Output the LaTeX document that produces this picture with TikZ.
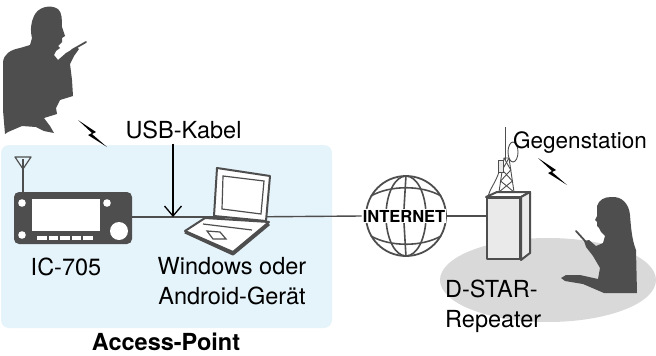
\documentclass[tikz,border=0pt]{standalone}
\usepackage{fontspec}
\setmainfont{TeX Gyre Heros}
\usetikzlibrary{positioning,arrows.meta}
\definecolor{apblau}{RGB}{229,243,250}
\definecolor{dunkel}{RGB}{78,78,78}
\definecolor{feld}{RGB}{217,217,217}
\definecolor{wand}{RGB}{234,234,234}
\tikzset{
	schrift/.style={font=\fontsize{23.5}{30}\selectfont, inner sep=0pt, align=center},
	kabel/.style={draw=dunkel, line width=1.4pt},
	umriss/.style={draw=dunkel, line width=2pt, line join=round},
	gitter/.style={draw=dunkel, line width=0.9pt},
	pfeil/.style={draw=black, line width=1.3pt, -{Straight Barb[length=10pt, width=17pt]}},
}
\newcommand{\blitz}{\fill (0,0) -- (18,12) -- (14,14) -- (29,27) -- (10,15) -- (14,13) -- cycle;}
\newcommand{\funkgeraet}{\fill[dunkel, rounded corners=5pt] (0,0) rectangle (118,52);
					\fill[white] (18,7) rectangle (86,39);
					\fill[white] (8,11) circle (3.8);
					\fill[white] (8,43) circle (3.8);
					\fill[white] (93,11) circle (3.8);
					\fill[white] (105,39) circle (9);
					\fill[white] (23,44) rectangle (32.5,48);
					\fill[white] (34.5,44) rectangle (44,48);
					\fill[white] (46,44) rectangle (55.5,48);
					\fill[white] (57.5,44) rectangle (67,48);
					\fill[white] (69,44) rectangle (78.5,48);
					\draw[dunkel, line width=1.2pt] (9,0) -- (9,-33);
					\draw[dunkel, line width=1.2pt, line join=round] (1,-35) -- (17,-35) -- (9,-23) -- cycle;}
\newcommand{\laptop}{\draw[umriss, fill=white] (0,63) -- (20,50) -- (84,54) -- (48,84) -- cycle;
					\draw[umriss, line width=3pt] (0,64) -- (48,86) -- (84,56);
					\draw[umriss, fill=white] (32,0) -- (85,8) -- (81,53) -- (29,48) -- cycle;
					\draw[dunkel, line width=1.2pt] (38,8) -- (79,13) -- (76,46) -- (37,41) -- cycle;
					\draw[dunkel, line width=1.2pt] (18,56) -- (67,62);
					\draw[dunkel, line width=1.2pt] (22,63) -- (35,64) -- (41,71) -- (28,71) -- cycle;}
\newcommand{\turm}{\draw[gitter] (499,192) -- (504,158) -- (509,158) -- (514,192);
					\draw[gitter] (499,192) -- (512.4,181) -- (502.2,170) -- (509,158);
					\draw[gitter] (514,192) -- (500.6,181) -- (510.8,170) -- (504,158);
					\draw[gitter] (505,127) -- (505,160);
					\draw[gitter, fill=white] (513,152) ellipse [x radius=5, y radius=10];
					\draw[gitter, fill=wand] (498,160) rectangle (503,172);
					\draw[gitter] (499,172) .. controls (495,184) and (490,188) .. (488,197);}

\begin{document}
\begin{tikzpicture}[x=1pt, y=-1pt]
	\useasboundingbox (0,0) rectangle (656,356);

	% Access-Point Bereich und Funkfeld
	\fill[apblau, rounded corners=8pt] (1,145) rectangle (332,328);
	\fill[feld] (548,280) ellipse [x radius=108, y radius=42];

	\node[minimum width=118, minimum height=52, inner sep=0pt] (radio) at (73,218) {};
	\coordinate (laptop) at (236,217);
	\coordinate (usbziel) at (173,217);
	\node[circle, umriss, line width=1.8pt, fill=white, minimum size=80, inner sep=0pt] (globus) at (406,216) {};
	\node[umriss, fill=wand, minimum width=33, minimum height=61, inner sep=0pt] (repeater) at (503.5,228.5) {};

	\node[schrift, font=\fontsize{16.5}{18}\selectfont\bfseries, fill=white, inner sep=1pt] (internet) at (404,216) {INTERNET};

	% Kabel
	\draw[kabel] (radio.east |- laptop) -- (laptop);
	\draw[kabel] (laptop) -- (internet.west);
	\draw[kabel] (internet.east) -- (internet.east -| repeater.west);

	\begin{scope}[shift={(14,192)}]
		\funkgeraet
	\end{scope}

	\begin{scope}[shift={(185,168)}]
		\laptop
	\end{scope}

	% Globus
	\draw[dunkel, line width=1.6pt] (globus.north) -- (internet.north);
	\draw[dunkel, line width=1.6pt] (internet.south) -- (globus.south);
	\begin{scope}
		\clip (0,0) rectangle (656,210) (0,223) rectangle (656,356);
		\draw[dunkel, line width=1.6pt] (406,216) ellipse [x radius=20, y radius=40];
	\end{scope}
	\draw[dunkel, line width=1.6pt] (371,196) .. controls (390,185) and (422,185) .. (441,196);
	\draw[dunkel, line width=1.6pt] (371,236) .. controls (390,247) and (422,247) .. (441,236);
	\node[schrift, font=\fontsize{16.5}{18}\selectfont\bfseries, fill=white, inner sep=1pt] at (internet) {INTERNET};

	% Repeater
	\draw[umriss, fill=white] (repeater.north west) -- (497,192) -- (530,192) -- (repeater.north east) -- cycle;
	\draw[umriss, fill=wand] (repeater.north east) -- (530,192) -- (530,253) -- (repeater.south east) -- cycle;
	\turm

	% Personen
	\fill[dunkel] (34,16) .. controls (38,7) and (50,4) .. (58,9)
		.. controls (62,12) and (62,20) .. (62,27)
		-- (65,36) -- (62,38) -- (62,42) -- (58,46) -- (60,48) -- (56,51) -- (54,55)
		-- (58,60) -- (66,53) -- (76,47) -- (79,49) -- (74,56) -- (70,64)
		-- (72,80) -- (73,96) -- (60,100) -- (56,108) -- (57,114) -- (44,118)
		-- (50,126) -- (54,133) -- (44,131) -- (36,127) -- (22,126) -- (8,132) -- (5,134)
		-- (3,110) -- (3,62) .. controls (4,54) and (10,50) .. (20,48)
		-- (30,45) -- (32,38) .. controls (30,30) and (31,22) .. (34,16) -- cycle;
	\draw[dunkel, line width=1.8pt, line cap=round] (72,50) -- (86,42);

	\fill[dunkel] (611,197) .. controls (622,196) and (629,204) .. (630,215)
		.. controls (631,228) and (632,240) .. (636,250)
		-- (637,293) -- (604,293)
		-- (583,284) -- (565,281) -- (561,278) -- (566,275) -- (580,275) -- (598,279)
		-- (600,268) -- (593,256) -- (586,247) -- (584,241) -- (589,240) -- (596,246)
		-- (603,243) -- (605,236) -- (601,232) -- (599,228) -- (597,226) -- (597,222) -- (595,220)
		-- (597,216) -- (597,206) .. controls (599,200) and (604,197) .. (611,197) -- cycle;
	\draw[dunkel, line width=1.8pt, line cap=round] (576,231) -- (586,242);

	\begin{scope}[shift={(78,120)}]
		\blitz
	\end{scope}

	\begin{scope}[shift={(538,158)}]
		\blitz
	\end{scope}

	% Beschriftung
	\node[schrift, anchor=base] (usb) at (183.5,138) {USB-Kabel};
	\draw[pfeil] ([yshift=-5pt]usb.south -| usbziel) -- (usbziel);
	\node[schrift, anchor=north] (ic) at (66,258) {IC-705};
	\node[schrift, anchor=north] (pc) at (232,257) {Windows oder\\Android-Gerät};
	\node[schrift, font=\fontsize{23.5}{26}\selectfont\bfseries, anchor=base] (ap) at (166,350) {Access-Point};
	\node[schrift, font=\fontsize{22.5}{26}\selectfont, anchor=base west] (gegen) at (513,148) {Gegenstation};
	\node[schrift, align=left, anchor=north west] (dstar) at (445,280) {D-STAR-\\Repeater};
\end{tikzpicture}
\end{document}
